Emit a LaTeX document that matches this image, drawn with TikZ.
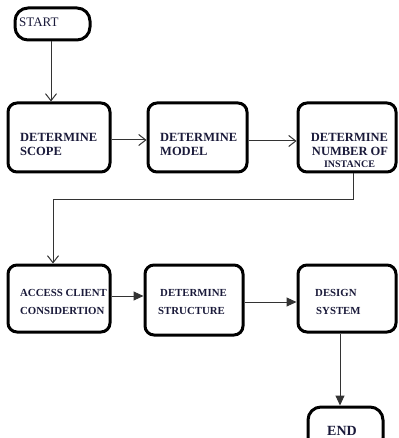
\documentclass[tikz,border=0pt]{standalone}
\usepackage{fontspec}
\setmainfont{Liberation Serif}
\usetikzlibrary{arrows.meta,calc}
\definecolor{txt}{HTML}{1A1A3A}
\tikzset{
  box/.style={draw=black, line width=3pt, rounded corners=9pt, fill=white},
  term/.style={draw=black, line width=3pt, rounded corners=13pt, fill=white},
  lbl/.style={anchor=west, inner sep=0pt, font=\bfseries, text=txt},
  conn/.style={draw=black!80, line width=1pt},
  open/.style={conn, -{Straight Barb[length=7pt,width=11pt]}},
  solid/.style={conn, -{Triangle[length=10pt,width=9pt]}}
}
\begin{document}
\begin{tikzpicture}[x=1pt,y=-1pt]
\useasboundingbox (0,0) rectangle (398,438);
\clip (0,0) rectangle (398,438);
% shapes
\node[term, minimum width=75pt, minimum height=32pt] (start) at (52.5,24) {};
\node[box, minimum width=102pt, minimum height=69pt] (b1) at (59,137.5) {};
\node[box, minimum width=99pt, minimum height=69pt] (b2) at (197.5,137.5) {};
\node[box, minimum width=98pt, minimum height=69pt] (b3) at (347,137.5) {};
\node[box, minimum width=102pt, minimum height=67pt] (b4) at (59,298.5) {};
\node[box, minimum width=98pt, minimum height=70pt] (b5) at (194,300) {};
\node[box, minimum width=98pt, minimum height=67pt] (b6) at (347,298.5) {};
\node[term, minimum width=75pt, minimum height=44pt] (end) at (345.5,429) {};
% texts
\node[anchor=west, inner sep=0pt, font=\fontsize{13}{14}\selectfont, text=txt] (tstart) at (19,22) {START};
\node[lbl, font=\bfseries\fontsize{12.5}{14}\selectfont] (t1a) at (20,137) {DETERMINE};
\node[lbl, font=\bfseries\fontsize{12.5}{14}\selectfont] (t1b) at (20,151) {SCOPE};
\node[lbl, font=\bfseries\fontsize{12.5}{14}\selectfont] (t2a) at (160,137) {DETERMINE};
\node[lbl, font=\bfseries\fontsize{12.5}{14}\selectfont] (t2b) at (160,151) {MODEL};
\node[inner sep=0pt, font=\bfseries\fontsize{12.5}{14}\selectfont, text=txt] (t3a) at (349.5,137) {DETERMINE};
\node[inner sep=0pt, font=\bfseries\fontsize{12.5}{14}\selectfont, text=txt] (t3b) at (350,151) {NUMBER OF};
\node[inner sep=0pt, font=\bfseries\fontsize{10}{11}\selectfont, text=txt] (t3c) at (349.5,164) {INSTANCE};
\node[lbl, font=\bfseries\fontsize{10.8}{12}\selectfont] (t4a) at (20,293) {ACCESS CLIENT};
\node[lbl, font=\bfseries\fontsize{10.8}{12}\selectfont] (t4b) at (20,311) {CONSIDERTION};
\node[lbl, font=\bfseries\fontsize{10.8}{12}\selectfont] (t5a) at (160,293) {DETERMINE};
\node[lbl, font=\bfseries\fontsize{10.8}{12}\selectfont] (t5b) at (158,311) {STRUCTURE};
\node[lbl, font=\bfseries\fontsize{10.8}{12}\selectfont] (t6a) at (315,293) {DESIGN};
\node[lbl, font=\bfseries\fontsize{10.8}{12}\selectfont] (t6b) at (316,311) {SYSTEM};
\node[inner sep=0pt, font=\bfseries\fontsize{14}{16}\selectfont, text=txt] (tend) at (342,431) {END};
% connectors
\draw[open] ([xshift=-1.5pt]start.south) -- ([xshift=-8pt]b1.north);
\draw[open] ([yshift=-2.5pt]b1.east) -- ([yshift=-2.5pt]b2.west);
\draw[open] ([yshift=-3.5pt]b2.east) -- ([yshift=-3.5pt]b3.west);
\coordinate (elbowR) at (353,199);
\coordinate (elbowL) at (53,199);
\draw[open] ([xshift=6pt]b3.south) -- (elbowR) -- (elbowL) -- ([xshift=-6pt]b4.north);
\draw[solid] ([yshift=2.5pt]b4.east) -- ([yshift=4pt]b5.west);
\draw[solid] ([yshift=-2pt]b5.east) -- ([yshift=-3.5pt]b6.west);
\draw[solid] ([xshift=-7pt]b6.south) -- ([xshift=-5.5pt]end.north);
\end{tikzpicture}
\end{document}
